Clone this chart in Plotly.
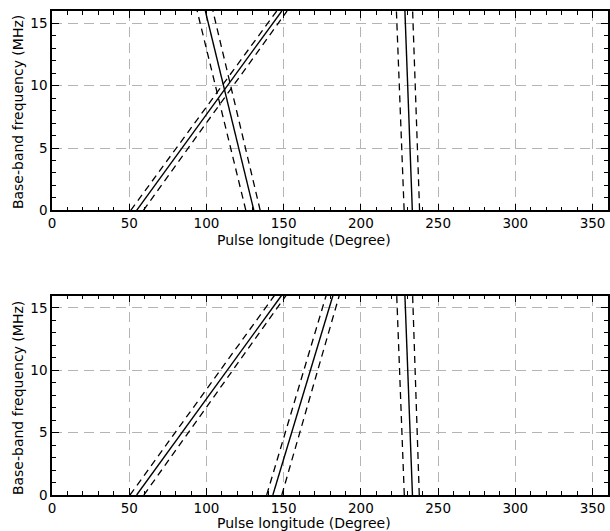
import plotly.graph_objects as go

# Base-band frequency (MHz) at the two ends of every track
freq = [0, 16]

# Top panel: pulse longitude (degree) at freq[0] and freq[1]
top_a_mid = [54.8, 148.8]
top_a_lo = [51.0, 145.5]
top_a_hi = [59.2, 152.2]
top_b_mid = [130.7, 99.3]
top_b_lo = [125.5, 94.0]
top_b_hi = [134.8, 104.2]
top_c_mid = [233.3, 228.5]
top_c_lo = [228.0, 223.0]
top_c_hi = [238.0, 233.5]

# Bottom panel
bot_a_mid = [54.8, 148.6]
bot_a_lo = [50.5, 144.0]
bot_a_hi = [59.5, 151.5]
bot_b_mid = [143.0, 181.9]
bot_b_lo = [139.0, 177.5]
bot_b_hi = [148.8, 186.0]
bot_c_mid = [233.4, 228.5]
bot_c_lo = [228.1, 223.2]
bot_c_hi = [237.8, 233.5]

x_ticks = [0, 50, 100, 150, 200, 250, 300, 350]
y_ticks = [0, 5, 10, 15]
x_title = "Pulse longitude (Degree)"
y_title = "Base-band frequency (MHz)"

fig = go.Figure()

solid = dict(color="black", width=1.4)
dashed = dict(color="black", width=1.3, dash="7px,5px")

panels = [
    ("x", "y", [(top_a_mid, top_a_lo, top_a_hi), (top_b_mid, top_b_lo, top_b_hi), (top_c_mid, top_c_lo, top_c_hi)]),
    ("x2", "y2", [(bot_a_mid, bot_a_lo, bot_a_hi), (bot_b_mid, bot_b_lo, bot_b_hi), (bot_c_mid, bot_c_lo, bot_c_hi)]),
]
for xa, ya, tracks in panels:
    for mid, lo, hi in tracks:
        fig.add_trace(go.Scatter(x=mid, y=freq, mode="lines", line=solid, xaxis=xa, yaxis=ya, showlegend=False))
        fig.add_trace(go.Scatter(x=lo, y=freq, mode="lines", line=dashed, xaxis=xa, yaxis=ya, showlegend=False))
        fig.add_trace(go.Scatter(x=hi, y=freq, mode="lines", line=dashed, xaxis=xa, yaxis=ya, showlegend=False))

tick_font = dict(family="DejaVu Sans", size=13.5, color="black")
title_font = dict(family="DejaVu Sans", size=14, color="black")

xcommon = dict(
    range=[0, 360], tickvals=x_ticks, ticks="inside", ticklen=7, tickwidth=1.2, tickcolor="black",
    showline=True, linecolor="black", linewidth=1.5, mirror="allticks",
    showgrid=True, gridcolor="#b4b4b4", gridwidth=1, griddash="10px,6px",
    minor=dict(dtick=10, ticks="inside", ticklen=4, tickcolor="black", showgrid=False),
    zeroline=False, tickfont=tick_font,
)
ycommon = dict(
    range=[0, 16], tickvals=y_ticks, ticks="inside", ticklen=7, tickwidth=1.2, tickcolor="black",
    showline=True, linecolor="black", linewidth=1.5, mirror="allticks",
    showgrid=True, gridcolor="#b4b4b4", gridwidth=1, griddash="10px,6px",
    minor=dict(dtick=1, ticks="inside", ticklen=4, tickcolor="black", showgrid=False),
    zeroline=False, tickfont=tick_font,
)

W, H = 610, 531
L, R, T, B = 52, 0, 11, 36
PW, PH = W - L - R, H - T - B


def px(page_x):
    return (page_x - L) / PW


def py(page_y):
    return (H - B - page_y) / PH


fig.update_layout(
    width=W, height=H,
    margin=dict(l=L, r=R, t=T, b=B),
    plot_bgcolor="white", paper_bgcolor="white",
    xaxis=dict(xcommon, anchor="y"),
    yaxis=dict(ycommon, anchor="x", domain=[py(210.3), 1.0]),
    xaxis2=dict(xcommon, anchor="y2"),
    yaxis2=dict(ycommon, anchor="x2", domain=[0.0, py(295.5)]),
    annotations=[
        dict(text=x_title, xref="paper", yref="paper", x=px(305), y=py(240),
             showarrow=False, font=title_font, xanchor="center", yanchor="middle"),
        dict(text=x_title, xref="paper", yref="paper", x=px(305), y=py(523),
             showarrow=False, font=title_font, xanchor="center", yanchor="middle"),
        dict(text=y_title, xref="paper", yref="paper", x=px(18), y=py(112),
             showarrow=False, font=title_font, textangle=-90, xanchor="center", yanchor="middle"),
        dict(text=y_title, xref="paper", yref="paper", x=px(18), y=py(398),
             showarrow=False, font=title_font, textangle=-90, xanchor="center", yanchor="middle"),
    ],
)

fig.write_html(
    "out.html",
    config={"displayModeBar": False},
    post_script="document.body.style.margin='0px';document.body.style.overflow='hidden';",
)
